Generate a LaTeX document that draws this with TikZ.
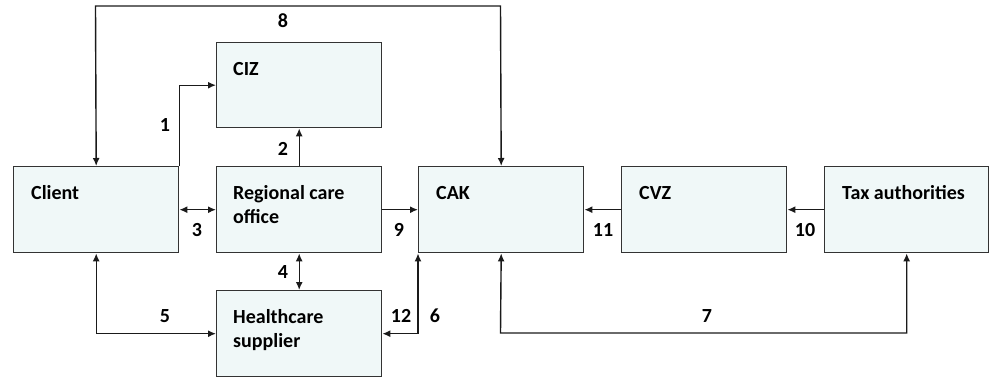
\documentclass[tikz,border=0pt]{standalone}
\usepackage{fontspec}
\setmainfont{Carlito}
\usetikzlibrary{arrows.meta}
\definecolor{boxfill}{HTML}{F0F8F8}
\definecolor{boxline}{HTML}{333333}
\definecolor{arrline}{HTML}{1A1A1A}
\begin{document}
\begin{tikzpicture}[x=1pt,y=-1pt,
  box/.style={draw=boxline,fill=boxfill,line width=1.4pt,rectangle,inner sep=0pt,anchor=north west,minimum height=86pt},
  txt/.style={anchor=base west,inner sep=0pt,font=\fontsize{20}{24}\selectfont\bfseries,text=black},
  num/.style={inner sep=0pt,font=\fontsize{20}{24}\selectfont\bfseries,text=black},
  conn/.style={draw=arrline,line width=1.4pt,arrows={-Latex[length=8pt,width=7pt]}},
  dconn/.style={draw=arrline,line width=1.4pt,arrows={Latex[length=8pt,width=7pt]-Latex[length=8pt,width=7pt]}}]
\useasboundingbox (0,0) rectangle (989,378);
% boxes
\node[box,minimum width=165pt] (client) at (13,166) {};
\node[box,minimum width=165pt,minimum height=85pt] (ciz) at (216,42) {};
\node[box,minimum width=165pt] (reg) at (216,166) {};
\node[box,minimum width=165pt] (hs) at (216,290) {};
\node[box,minimum width=165pt] (cak) at (418,166) {};
\node[box,minimum width=165pt] (cvz) at (621,166) {};
\node[box,minimum width=164pt] (tax) at (824,166) {};
% texts
\node[txt] (clientT) at (31,199) {Client};
\node[txt] (cizT) at (233,75) {CIZ};
\node[txt] (regT1) at (233,199) {Regional care};
\node[txt] (regT2) at (233,223) {office};
\node[txt] (hsT1) at (233,323) {Healthcare};
\node[txt] (hsT2) at (233,347) {supplier};
\node[txt] (cakT) at (436,199) {CAK};
\node[txt] (cvzT) at (639,199) {CVZ};
\node[txt] (taxT) at (842,199) {Tax authorities};
% connectors
\coordinate (top8r) at (500.5,6);
\coordinate (top8l) at (95.5,6);
\draw[dconn] (cak.north) -- (top8r) -- (top8l) -- (client.north);
\draw[conn] (client.north east) |- (ciz.west);
\draw[conn] (reg.north) -- (ciz.south);
\draw[dconn] (client.east) -- (reg.west);
\draw[dconn] (reg.south) -- (hs.north);
\draw[dconn] (client.south) |- (hs.west);
\draw[conn] (reg.east) -- (cak.west);
\draw[dconn] (cak.south west) |- (hs.east);
\draw[conn] (cvz.west) -- (cak.east);
\draw[conn] (tax.west) -- (cvz.east);
\coordinate (b7) at (500.5,333);
\draw[dconn] (cak.south) -- (b7) -| (tax.south);
% numbers
\node[num] (n8) at (283,21) {8};
\node[num] (n1) at (165,125) {1};
\node[num] (n2) at (283,149) {2};
\node[num] (n3) at (197,230) {3};
\node[num] (n4) at (283,272) {4};
\node[num] (n5) at (165,316) {5};
\node[num] (n12) at (401,316) {12};
\node[num] (n6) at (435,316) {6};
\node[num] (n9) at (399,230) {9};
\node[num] (n11) at (603,230) {11};
\node[num] (n10) at (805,230) {10};
\node[num] (n7) at (707,316) {7};
\end{tikzpicture}
\end{document}
